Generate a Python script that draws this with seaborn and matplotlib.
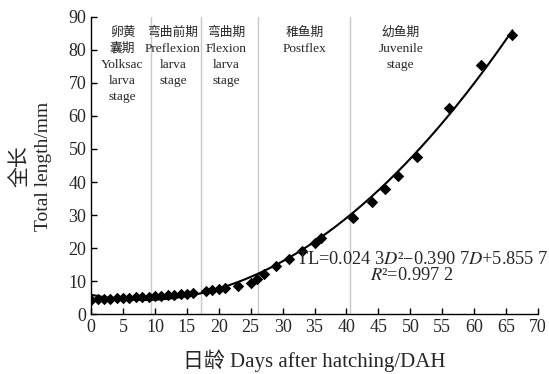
import numpy as np
import pandas as pd
import seaborn as sns
import matplotlib.pyplot as plt

# measured total length by day
days = [0, 1, 2, 3, 4, 5, 6, 7, 8, 9,
        10, 11, 12, 13, 14, 15, 16,
        18, 19, 20, 21, 23, 25, 26, 27, 29, 31, 33, 35, 36,
        41, 44, 46, 48, 51, 56, 61, 66]
length = [4.3, 4.5, 4.6, 4.7, 4.8, 4.9, 5.0, 5.1, 5.2, 5.2,
          5.4, 5.6, 5.7, 5.9, 6.0, 6.2, 6.5,
          7.0, 7.4, 7.7, 7.9, 8.5, 9.5, 10.5, 12.3, 14.5, 16.8, 19.2, 21.5, 23.2,
          29.2, 34.0, 37.8, 41.8, 47.5, 62.5, 75.5, 84.5]

# fitted quadratic, TL = a*D^2 + b*D + c
fit_coef = [0.0243, -0.3907, 5.8557]

# stage boundaries and labels
stage_bounds = [9.3, 17.2, 26.1, 40.5]
stage_x = [4.9, 12.8, 21.1, 33.5, 48.5]
stage_labels = [['卵黄', '囊期', 'Yolksac', 'larva', 'stage'],
                ['弯曲前期', 'Preflexion', 'larva', 'stage'],
                ['弯曲期', 'Flexion', 'larva', 'stage'],
                ['稚鱼期', 'Postflex'],
                ['幼鱼期', 'Juvenile', 'stage']]

sns.set_style('ticks')
fonts = ['Liberation Serif', 'Noto Sans CJK SC']
plt.rcParams['font.family'] = fonts
plt.rcParams['mathtext.fontset'] = 'stix'

fig = plt.figure(figsize=(5.49, 3.74), dpi=100)
ax = fig.add_axes([0.166, 0.160, 0.814, 0.795])

for b in stage_bounds:
    ax.axvline(b, color='#c8c8c8', lw=1, zorder=0)

data = pd.DataFrame({'day': days, 'tl': length})
sns.scatterplot(x='day', y='tl', data=data, marker='D', s=34, color='black',
                edgecolor='black', linewidth=0, ax=ax, zorder=3)

xs = np.linspace(0, 66, 200)
curve = pd.DataFrame({'day': xs, 'tl': np.polyval(fit_coef, xs)})
sns.lineplot(x='day', y='tl', data=curve, color='black', lw=1.5, ax=ax, zorder=2)

for x, lines in zip(stage_x, stage_labels):
    for i, line in enumerate(lines):
        cjk = any(ord(c) > 0x3000 for c in line)
        ax.text(x, 85.2 - i * 4.85, line, ha='center', va='center',
                fontsize=9.2 if cjk else 9.6)

ax.text(51.8, 16.4, 'TL=0.024 3$D$²\u22120.390 7$D$+5.855 7', ha='center', va='center',
        fontsize=13.2)
ax.text(50.2, 11.6, '$R$²=0.997 2', ha='center', va='center', fontsize=13.2)

ax.set_xlim(0, 70)
ax.set_ylim(0, 90)
ax.set_xticks(np.arange(0, 71, 5))
ax.set_yticks(np.arange(0, 91, 10))
ax.tick_params(direction='in', length=4, width=1, labelsize=13, color='black')
for s in ['left', 'bottom']:
    ax.spines[s].set_color('black')
    ax.spines[s].set_linewidth(1)
sns.despine(ax=ax)

ax.set_xlabel('日龄 Days after hatching/DAH', fontsize=15, labelpad=10)
ax.set_ylabel('')
fig.text(0.037, 0.556, '全长', rotation=90, ha='center', va='center', fontsize=15)
fig.text(0.08, 0.556, 'Total length/mm', rotation=90, ha='center', va='center',
         fontsize=14)

fig.savefig('out.png', dpi=100)
